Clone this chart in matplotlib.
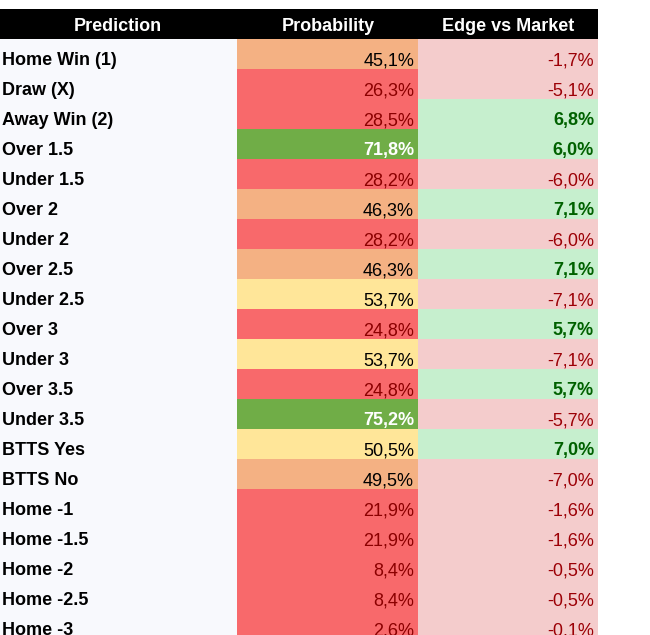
import matplotlib
matplotlib.use('Agg')
import matplotlib.pyplot as plt
from matplotlib.patches import Rectangle

plt.rcParams['font.family'] = ['Liberation Sans', 'DejaVu Sans']

# ─────────────────────────────────────────────
# 데이터
# ─────────────────────────────────────────────
headers = ['Prediction', 'Probability', 'Edge vs Market']
predictions = ['Home Win (1)', 'Draw (X)', 'Away Win (2)', 'Over 1.5', 'Under 1.5',
               'Over 2', 'Under 2', 'Over 2.5', 'Under 2.5', 'Over 3', 'Under 3',
               'Over 3.5', 'Under 3.5', 'BTTS Yes', 'BTTS No', 'Home -1',
               'Home -1.5', 'Home -2', 'Home -2.5', 'Home -3']
probability = [45.1, 26.3, 28.5, 71.8, 28.2, 46.3, 28.2, 46.3, 53.7, 24.8,
               53.7, 24.8, 75.2, 50.5, 49.5, 21.9, 21.9, 8.4, 8.4, 2.6]
edge = [-1.7, -5.1, 6.8, 6.0, -6.0, 7.1, -6.0, 7.1, -7.1, 5.7,
        -7.1, 5.7, -5.7, 7.0, -7.0, -1.6, -1.6, -0.5, -0.5, -0.1]


def pct(v):
    return f"{v:.1f}%".replace('.', ',')


def prob_style(p):
    # 배경색, 글자색, 굵기
    if p >= 70:
        return '#70ad47', 'white', 'bold'
    if p >= 50:
        return '#ffe699', 'black', 'normal'
    if p >= 40:
        return '#f4b183', 'black', 'normal'
    return '#f8696b', '#8b0000', 'normal'


def edge_style(e):
    if e > 0:
        return '#c6efce', '#006100', 'bold'
    return '#f4cccc', '#9c0006', 'normal'


# ─────────────────────────────────────────────
# 레이아웃 (픽셀 좌표)
# ─────────────────────────────────────────────
W, H = 650, 635
col_x = [0, 237, 418, 598]
head_top, head_h, row_h = 9, 30, 30
base_off = 26.3   # 셀 상단 → 글자 baseline

fig = plt.figure(figsize=(W / 100, H / 100), dpi=100)
ax = fig.add_axes([0, 0, 1, 1])
ax.set_xlim(0, W)
ax.set_ylim(H, 0)
ax.axis('off')

# 헤더
ax.add_patch(Rectangle((0, head_top), col_x[-1], head_h, color='black', lw=0))
head_cx = [118, 328, 508]
for t, cx in zip(headers, head_cx):
    ax.text(cx, head_top + 22, t, color='white', fontsize=13,
            fontweight='bold', ha='center', va='baseline')

# 행
y0 = head_top + head_h
for i, (name, p, e) in enumerate(zip(predictions, probability, edge)):
    y = y0 + i * row_h
    by = y + base_off
    ax.add_patch(Rectangle((col_x[0], y), col_x[1] - col_x[0], row_h,
                           color='#f8f9fd', lw=0))
    ax.text(2, by, name, fontsize=13, fontweight='bold', color='black',
            ha='left', va='baseline')

    bg, fg, fw = prob_style(p)
    ax.add_patch(Rectangle((col_x[1], y), col_x[2] - col_x[1], row_h, color=bg, lw=0))
    ax.text(col_x[2] - 4, by, pct(p), fontsize=13, fontweight=fw, color=fg,
            ha='right', va='baseline')

    bg, fg, fw = edge_style(e)
    ax.add_patch(Rectangle((col_x[2], y), col_x[3] - col_x[2], row_h, color=bg, lw=0))
    ax.text(col_x[3] - 4, by, pct(e), fontsize=13, fontweight=fw, color=fg,
            ha='right', va='baseline')

plt.savefig('out.png', dpi=100)
plt.close()
